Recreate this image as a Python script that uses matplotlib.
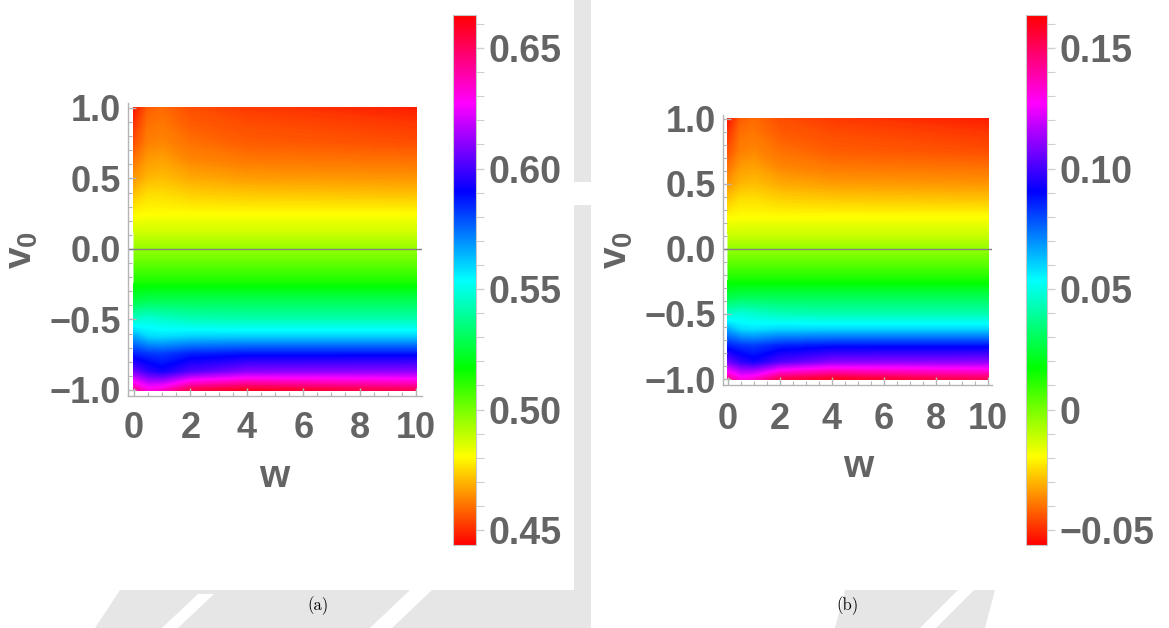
import numpy as np
import matplotlib.pyplot as plt
from matplotlib.colors import LinearSegmentedColormap, Normalize
from matplotlib.cm import ScalarMappable
from matplotlib.patches import Polygon, Rectangle
from matplotlib.ticker import MultipleLocator

W, H = 1169, 628

# grid of the density plots
w = [0, 0.5, 1, 2, 4, 10]
v0 = [1.0, 0.875, 0.75, 0.625, 0.5, 0.375, 0.25, 0.125, 0.0,
      -0.125, -0.25, -0.375, -0.5, -0.625, -0.75, -0.875, -1.0]

# panel (a)
za = [
    [0.446, 0.457, 0.459, 0.455, 0.452, 0.448],
    [0.451, 0.460, 0.461, 0.457, 0.455, 0.452],
    [0.455, 0.462, 0.463, 0.460, 0.457, 0.455],
    [0.460, 0.466, 0.467, 0.463, 0.461, 0.460],
    [0.465, 0.470, 0.471, 0.468, 0.466, 0.465],
    [0.472, 0.476, 0.476, 0.474, 0.473, 0.472],
    [0.479, 0.480, 0.480, 0.480, 0.480, 0.480],
    [0.487, 0.487, 0.487, 0.487, 0.487, 0.487],
    [0.496, 0.496, 0.496, 0.496, 0.496, 0.496],
    [0.505, 0.505, 0.505, 0.505, 0.505, 0.505],
    [0.515, 0.515, 0.515, 0.515, 0.515, 0.515],
    [0.527, 0.529, 0.529, 0.529, 0.529, 0.529],
    [0.545, 0.548, 0.546, 0.543, 0.542, 0.542],
    [0.566, 0.559, 0.558, 0.560, 0.560, 0.560],
    [0.586, 0.583, 0.582, 0.586, 0.588, 0.588],
    [0.606, 0.597, 0.593, 0.602, 0.610, 0.611],
    [0.642, 0.630, 0.633, 0.652, 0.658, 0.650],
]

# panel (b)
zb = [
    [-0.054, -0.043, -0.041, -0.045, -0.048, -0.052],
    [-0.049, -0.040, -0.039, -0.043, -0.045, -0.048],
    [-0.045, -0.038, -0.037, -0.040, -0.043, -0.045],
    [-0.040, -0.034, -0.033, -0.037, -0.039, -0.040],
    [-0.035, -0.030, -0.029, -0.032, -0.034, -0.035],
    [-0.028, -0.024, -0.024, -0.026, -0.027, -0.028],
    [-0.021, -0.020, -0.020, -0.020, -0.020, -0.020],
    [-0.013, -0.013, -0.013, -0.013, -0.013, -0.013],
    [-0.004, -0.004, -0.004, -0.004, -0.004, -0.004],
    [0.005, 0.005, 0.005, 0.005, 0.005, 0.005],
    [0.015, 0.015, 0.015, 0.015, 0.015, 0.015],
    [0.027, 0.029, 0.029, 0.029, 0.029, 0.029],
    [0.045, 0.048, 0.046, 0.043, 0.042, 0.042],
    [0.066, 0.059, 0.058, 0.060, 0.060, 0.060],
    [0.086, 0.083, 0.082, 0.086, 0.088, 0.088],
    [0.106, 0.097, 0.093, 0.102, 0.110, 0.111],
    [0.142, 0.130, 0.133, 0.152, 0.158, 0.150],
]

range_a = (0.4438, 0.6637)
range_b = (-0.0562, 0.1637)
cbar_ticks_a = [0.45, 0.50, 0.55, 0.60, 0.65]
cbar_labels_a = ['0.45', '0.50', '0.55', '0.60', '0.65']
cbar_ticks_b = [-0.05, 0.0, 0.05, 0.10, 0.15]
cbar_labels_b = ['\u22120.05', '0', '0.05', '0.10', '0.15']

GRAY = '#646464'
FRAME = '#b4b4b4'
WMARK = '#e6e6e6'

plt.rcParams['font.family'] = ['Liberation Sans', 'DejaVu Sans']
plt.rcParams['font.weight'] = 'bold'
plt.rcParams['mathtext.fontset'] = 'custom'
plt.rcParams['mathtext.bf'] = 'Liberation Sans:bold'
plt.rcParams['mathtext.rm'] = 'Liberation Sans:bold'

# full hue cycle, red -> yellow -> green -> cyan -> blue -> magenta -> red
hue = LinearSegmentedColormap.from_list(
    'hue', ['#ff0000', '#ffff00', '#00ff00', '#00ffff', '#0000ff', '#ff00ff', '#ff0000'], N=1024)


def px_rect(x0, y0, x1, y1):
    return [x0 / W, 1 - y1 / H, (x1 - x0) / W, (y1 - y0) / H]


fig = plt.figure(figsize=(W / 100, H / 100), dpi=100)

# faint background behind the panels
bg = fig.add_axes([0, 0, 1, 1], zorder=-10)
bg.set_xlim(0, W)
bg.set_ylim(H, 0)
bg.axis('off')
bg.add_patch(Rectangle((574, 0), 17, 182, color=WMARK, lw=0))
bg.add_patch(Rectangle((574, 205), 17, 390, color=WMARK, lw=0))
bg.add_patch(Polygon([(120, 590), (591, 590), (591, 628), (95, 628)], color=WMARK, lw=0))
bg.add_patch(Polygon([(198, 594), (214, 594), (178, 628), (162, 628)], color='white', lw=0))
bg.add_patch(Polygon([(410, 590), (432, 590), (392, 628), (370, 628)], color='white', lw=0))
bg.add_patch(Polygon([(845, 590), (995, 590), (985, 628), (835, 628)], color=WMARK, lw=0))
bg.add_patch(Polygon([(958, 590), (974, 590), (936, 628), (920, 628)], color='white', lw=0))


def panel(box, z, vrange, xlim, ylim, cbox, ticks, labels, xlab_pos, vlab_pos, xpad):
    ax = fig.add_axes(px_rect(*box))
    norm = Normalize(*vrange)
    # smooth underlay so no background shows through between filled bands
    ax.pcolormesh(w, v0, z, shading='gouraud', cmap=hue, norm=norm, zorder=0.5)
    levels = np.linspace(vrange[0], vrange[1], 401)
    cs = ax.contourf(w, v0, z, levels=levels, cmap=hue, extend='both', algorithm='serial',
                     zorder=0.6)
    cs.set_edgecolor('face')
    cs.set_linewidth(0.6)
    ax.axhline(0, color='#808080', lw=1)
    ax.set_xlim(*xlim)
    ax.set_ylim(*ylim)
    for s in ['top', 'right']:
        ax.spines[s].set_visible(False)
    for s in ['left', 'bottom']:
        ax.spines[s].set_color(FRAME)
        ax.spines[s].set_linewidth(1)
    ax.set_xticks([0, 2, 4, 6, 8, 10])
    ax.set_yticks([-1, -0.5, 0, 0.5, 1])
    ax.xaxis.set_minor_locator(MultipleLocator(0.5))
    ax.yaxis.set_minor_locator(MultipleLocator(0.1))
    ax.yaxis.set_major_formatter('{x:.1f}')
    ax.tick_params(which='both', direction='in', color=FRAME, labelcolor=GRAY, labelsize=26)
    ax.tick_params(which='major', length=6, width=1)
    ax.tick_params(which='minor', length=3, width=0.8)
    ax.tick_params(axis='y', pad=5)
    ax.tick_params(axis='x', pad=xpad)

    fig.text(xlab_pos[0] / W, 1 - xlab_pos[1] / H, 'w', color=GRAY, fontsize=28,
             ha='center', va='baseline')
    fig.text(vlab_pos[0] / W, 1 - vlab_pos[1] / H, r'$\mathbf{v}_{\mathbf{0}}$', color=GRAY,
             fontsize=28, rotation=90, ha='center', va='center')

    cax = fig.add_axes(px_rect(*cbox))
    sm = ScalarMappable(norm=norm, cmap=hue)
    cb = fig.colorbar(sm, cax=cax)
    cb.set_ticks(ticks, labels=labels)
    cb.ax.yaxis.set_minor_locator(MultipleLocator(0.01))
    cb.outline.set_edgecolor('#c8c8c8')
    cb.outline.set_linewidth(0.8)
    cb.ax.tick_params(which='both', direction='out', color='#d0d0d0', labelcolor=GRAY,
                      labelsize=27, pad=3)
    cb.ax.tick_params(which='major', length=6, width=1)
    cb.ax.tick_params(which='minor', length=6, width=0.8)
    return ax


panel((128, 103, 422, 396), za, range_a, (-0.213, 10.213), (-1.043, 1.035),
      (453, 15, 476, 545), cbar_ticks_a, cbar_labels_a, (274, 487), (22, 250), 11)
panel((723, 115, 992, 385), zb, range_b, (-0.19, 10.15), (-1.046, 1.03),
      (1026, 15, 1047, 545), cbar_ticks_b, cbar_labels_b, (858, 477), (617, 250), 12)

fig.text(318 / W, 1 - 606 / H, '(a)', fontfamily='cmr10', fontweight='normal',
         fontsize=12, color='black', ha='center', va='center')
fig.text(848 / W, 1 - 606 / H, '(b)', fontfamily='cmr10', fontweight='normal',
         fontsize=12, color='black', ha='center', va='center')

fig.savefig('out.png', dpi=100)
